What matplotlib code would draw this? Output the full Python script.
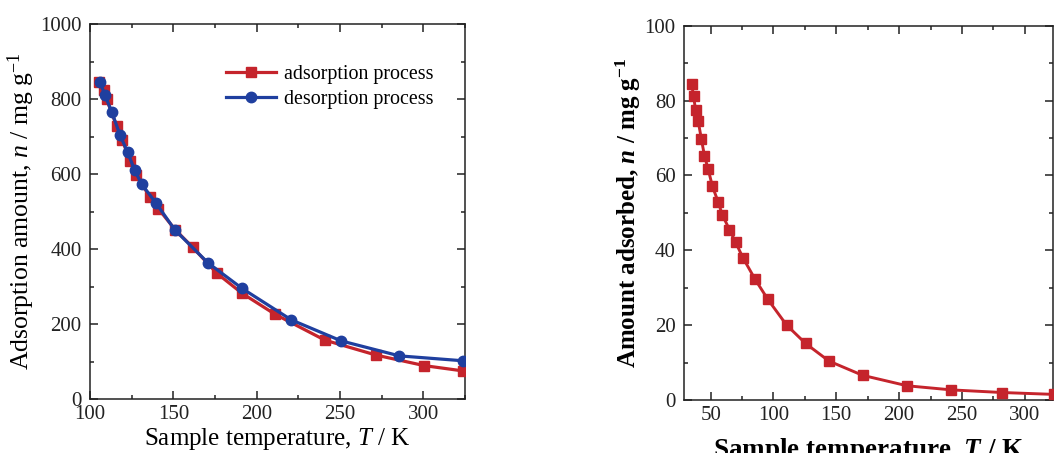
import matplotlib
matplotlib.use("Agg")
import matplotlib.pyplot as plt
from matplotlib.ticker import MultipleLocator

# ---------------- data ----------------
ads_T = [105.4, 108.4, 110.0, 116.0, 119.3, 124.1, 127.7, 135.9, 140.9, 151.0,
         161.5, 176.2, 191.2, 211.0, 240.9, 271.7, 300.6, 323.6]
ads_n = [846, 824, 799, 728, 691, 635, 597, 539, 508, 452,
         405, 335, 282, 226, 157, 117, 89, 75]

des_T = [106.0, 108.8, 113.0, 118.0, 122.6, 126.8, 131.0, 139.5, 150.9,
         170.8, 191.2, 220.8, 250.7, 285.6, 323.6]
des_n = [846, 812, 766, 704, 658, 610, 573, 523, 451,
         363, 295, 211, 155, 115, 102]

r_T = [34.9, 36.4, 38.0, 40.1, 42.6, 45.1, 48.1, 51.4, 55.9, 59.4, 65.0, 69.8,
       75.7, 85.3, 95.5, 110.5, 125.6, 144.2, 170.9, 206.4, 241.7, 282.0, 323.0]
r_n = [84.5, 81.1, 77.6, 74.5, 69.8, 65.2, 61.6, 57.1, 53.0, 49.4, 45.5, 42.2,
       38.0, 32.3, 26.9, 20.0, 15.1, 10.4, 6.6, 3.8, 2.7, 2.0, 1.5]

legend_labels = ["adsorption process", "desorption process"]

# ---------------- style ----------------
plt.rcParams['font.family'] = ['Liberation Serif', 'DejaVu Serif']
plt.rcParams['mathtext.fontset'] = 'custom'
plt.rcParams['mathtext.rm'] = 'Liberation Serif'
plt.rcParams['mathtext.it'] = 'Liberation Serif:italic'
plt.rcParams['mathtext.bf'] = 'Liberation Serif:bold'
plt.rcParams['mathtext.bfit'] = 'Liberation Serif:italic:bold'

RED = '#c5242c'
BLUE = '#1f3f9f'
W, H = 1055, 453

fig = plt.figure(figsize=(W / 100, H / 100), dpi=100)


def ax_at(l, r, t, b):
    return fig.add_axes([l / W, 1 - b / H, (r - l) / W, (b - t) / H])


def style(ax):
    for s in ax.spines.values():
        s.set_linewidth(1.1)
        s.set_color('#222222')
    ax.tick_params(which='both', direction='in', top=True, right=True,
                   width=1.1, colors='#222222', labelsize=15)
    ax.tick_params(axis='x', which='both', pad=4.5)
    ax.tick_params(axis='y', which='both', pad=6)
    ax.tick_params(which='major', length=5.5)
    ax.tick_params(which='minor', length=3.2)


# left panel
ax1 = ax_at(90, 465, 24, 399)
ax1.plot(ads_T, ads_n, color=RED, lw=2.3, marker='s', ms=7.5,
         label=legend_labels[0], zorder=3)
ax1.plot(des_T, des_n, color=BLUE, lw=2.3, marker='o', ms=7.5,
         label=legend_labels[1], zorder=4)
ax1.set_xlim(100, 325)
ax1.set_ylim(0, 1000)
ax1.xaxis.set_major_locator(MultipleLocator(50))
ax1.xaxis.set_minor_locator(MultipleLocator(25))
ax1.yaxis.set_major_locator(MultipleLocator(200))
ax1.yaxis.set_minor_locator(MultipleLocator(100))
style(ax1)
ax1.set_xlabel(r"Sample temperature, $T$ / K", fontsize=18, labelpad=1)
ax1.set_ylabel(r"Adsorption amount, $n$ / mg g$^{-1}$", fontsize=18.5, labelpad=2)
ax1.legend(loc='upper right', bbox_to_anchor=(0.915, 0.89), frameon=False,
           fontsize=14.4, handlelength=2.5, handletextpad=0.4, labelspacing=0.3,
           borderaxespad=0.0, borderpad=0.0)

# right panel
ax2 = ax_at(684, 1053, 25.7, 400)
ax2.plot(r_T, r_n, color=RED, lw=2.1, marker='s', ms=7, zorder=3)
ax2.set_xlim(28.8, 322.5)
ax2.set_ylim(0, 100)
ax2.xaxis.set_major_locator(MultipleLocator(50))
ax2.xaxis.set_minor_locator(MultipleLocator(25))
ax2.yaxis.set_major_locator(MultipleLocator(20))
ax2.yaxis.set_minor_locator(MultipleLocator(10))
style(ax2)
ax2.set_xlabel(r"Sample temperature, $\mathbfit{T}$ / K", fontsize=19.5,
               fontweight='bold', labelpad=8)
ax2.set_ylabel(r"Amount adsorbed, $\mathbfit{n}$ / mg g$^{\mathbf{-1}}$",
               fontsize=18, fontweight='bold', labelpad=1)

fig.savefig("out.png", dpi=100)
